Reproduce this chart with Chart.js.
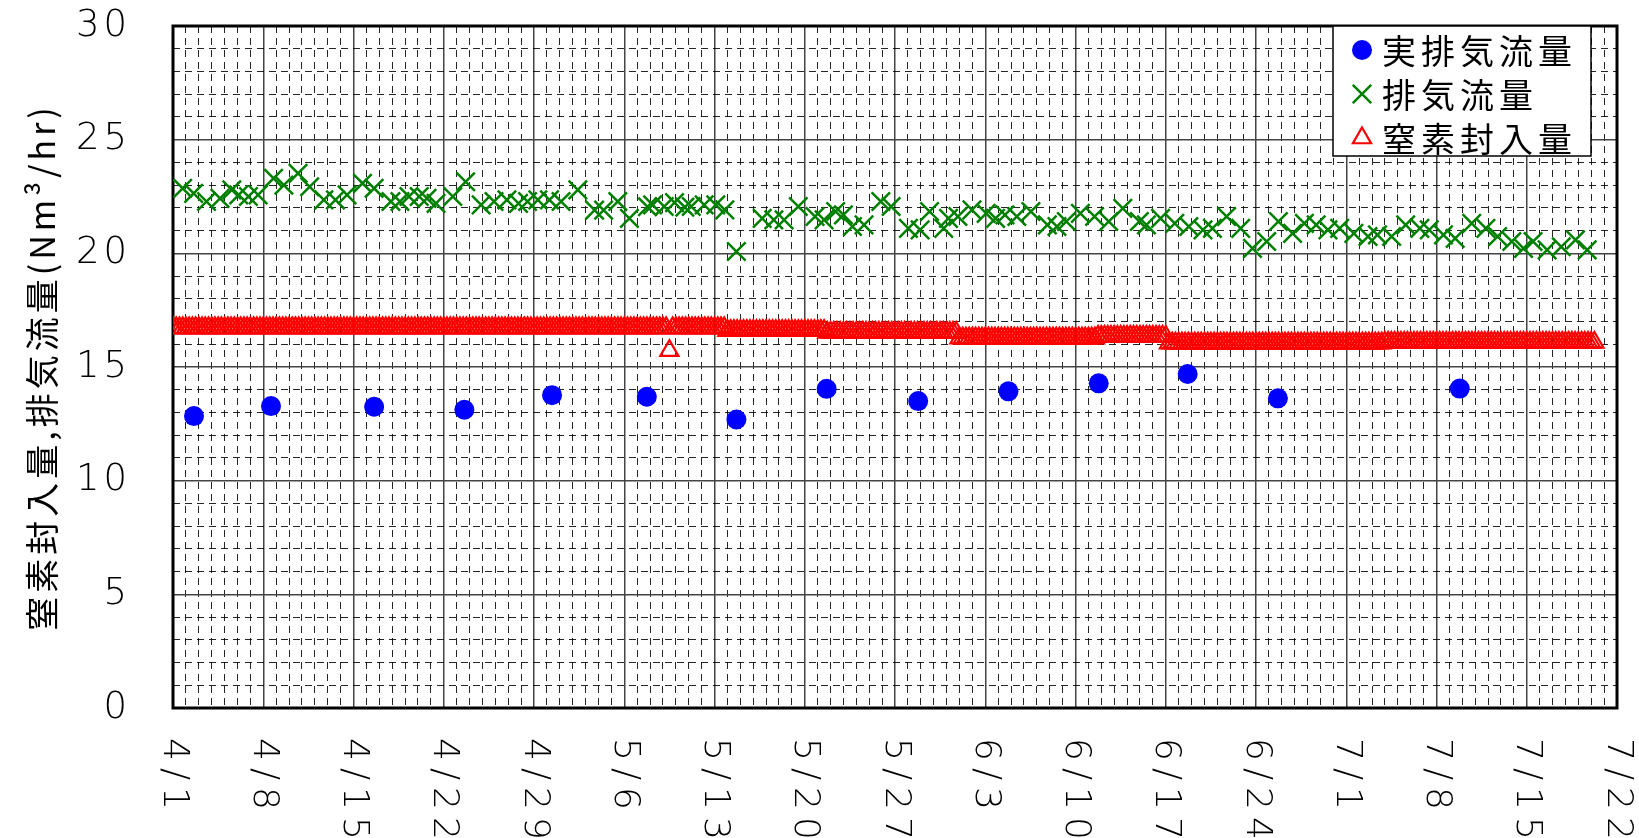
<!DOCTYPE html>
<html lang="ja">
<head>
<meta charset="utf-8">
<script src="https://cdn.jsdelivr.net/npm/chart.js@4.4.0/dist/chart.umd.min.js"></script>
<style>
  html, body { margin: 0; padding: 0; background: #fff; }
</style>
</head>
<body>
<canvas id="meuGrafico" width="1639" height="838"></canvas>
<script>
// eixo x: dias desde 4/1
let rotulosX = ["4/1", "4/8", "4/15", "4/22", "4/29", "5/6", "5/13", "5/20", "5/27",
                "6/3", "6/10", "6/17", "6/24", "7/1", "7/8", "7/15", "7/22"];

// 実排気流量 (semanal)
let diasReal = [1.63, 7.6, 15.6, 22.6, 29.4, 36.75, 43.7, 50.7, 57.8, 64.8, 71.8, 78.7, 85.7, 99.8];
let valoresReal = [12.84, 13.28, 13.25, 13.12, 13.76, 13.69, 12.69, 14.04, 13.5, 13.93, 14.28, 14.69, 13.62, 14.05];

// 排気流量 (diario)
let diasExaustao = [
  0.75, 1.6, 2.6, 3.65, 4.56, 5.1, 5.85, 6.6, 7.8, 8.6, 9.7, 10.6, 11.7, 12.6, 13.5, 14.7, 15.6,
  16.9, 17.6, 18.3, 19.1, 19.7, 20.4, 21.7, 22.7, 23.9, 24.9, 25.9, 26.8, 27.5, 28.3, 29.2, 30.1,
  31.4, 32.7, 33.4, 34.5, 35.4, 36.8,
  37.2, 38.1, 38.9, 39.7, 40.2, 41.2, 42.1, 42.8, 43.7, 45.7, 46.6, 47.4, 48.5, 49.8, 50.5, 51.4,
  52.0, 52.7, 53.6, 54.9, 55.7,
  57.04, 57.95, 58.68, 59.78, 60.15, 60.88, 61.97, 63.07, 63.8, 64.53, 65.45, 66.54, 67.82, 68.56,
  69.29, 70.38, 71.48, 72.58, 73.67, 74.95, 75.5, 76.6, 77.7, 78.79, 79.89, 80.62, 81.72, 82.81,
  83.73, 84.83, 85.74, 86.84, 87.75, 88.67, 89.58, 90.49, 91.59, 92.69, 93.42, 94.52, 95.61, 96.71,
  97.44, 98.54, 99.45, 100.73, 101.83, 102.74, 103.84, 104.75, 105.49, 106.58, 107.68, 108.78, 109.69
];
let valoresExaustao = [
  22.86, 22.64, 22.28, 22.42, 22.79, 22.57, 22.5, 22.57, 23.3, 23.0, 23.52, 22.93, 22.35, 22.35, 22.57, 23.08, 22.86,
  22.28, 22.28, 22.5, 22.5, 22.42, 22.2, 22.5, 23.15, 22.13, 22.28, 22.35, 22.2, 22.28, 22.35, 22.35, 22.28,
  22.79, 21.9, 21.9, 22.28, 21.54, 22.05,
  22.13, 22.06, 22.23, 22.03, 22.06, 22.13, 22.13, 21.91, 20.08, 21.54, 21.47, 21.47, 22.06, 21.62, 21.47, 21.84,
  21.69, 21.18, 21.25, 22.28, 22.06,
  21.1, 21.03, 21.84, 21.1, 21.54, 21.62, 21.91, 21.76, 21.54, 21.69, 21.62, 21.84, 21.25, 21.18,
  21.4, 21.76, 21.62, 21.4, 21.98, 21.4, 21.25, 21.54, 21.32, 21.18, 21.03, 21.1, 21.62, 21.1,
  20.22, 20.52, 21.4, 20.88, 21.32, 21.25, 21.03, 21.1, 20.88, 20.74, 20.81, 20.74, 21.25, 21.1,
  21.03, 20.81, 20.66, 21.32, 21.1, 20.74, 20.52, 20.22, 20.52, 20.15, 20.29, 20.59, 20.15
];

// 窒素封入量 (a cada 6 horas, uma linha por semana)
let passoNitrogenio = 0.25;
let valoresNitrogenio = [
  16.72,16.72,16.72,16.72,16.72,16.72,16.72, 16.72,16.72,16.72,16.72,16.72,16.72,16.72, 16.72,16.72,16.72,16.72,16.72,16.72,16.72, 16.72,16.72,16.72,16.72,16.72,16.72,16.72,
  16.72,16.72,16.72,16.72,16.72,16.72,16.72, 16.72,16.72,16.72,16.72,16.72,16.72,16.72, 16.72,16.72,16.72,16.72,16.72,16.72,16.72, 16.72,16.72,16.72,16.72,16.72,16.72,16.72,
  16.72,16.72,16.72,16.72,16.72,16.72,16.72, 16.72,16.72,16.72,16.72,16.72,16.72,16.72, 16.72,16.72,16.72,16.72,16.72,16.72,16.72, 16.72,16.72,16.72,16.72,16.72,16.72,16.72,
  16.72,16.72,16.72,16.72,16.72,16.72,16.72, 16.72,16.72,16.72,16.72,16.72,16.72,16.72, 16.72,16.72,16.72,16.72,16.72,16.72,16.72, 16.72,16.72,16.72,16.72,16.72,16.72,16.72,
  16.72,16.72,16.72,16.72,16.72,16.72,16.72, 16.72,16.72,16.72,16.72,16.72,16.72,16.72, 16.72,16.72,16.72,16.72,16.72,16.72,16.72, 16.72,16.72,16.72,16.72,16.72,16.72,16.72,
  16.72,16.72,16.72,16.72,16.72,16.72,16.72, 16.72,16.72,16.72,16.72,16.72,16.72,16.72, 15.72,16.72,16.72,16.72,16.72,16.72,16.72, 16.72,16.72,16.72,16.72,16.72,16.72,16.72,
  16.72,16.72,16.72,16.72,16.6,16.6,16.6, 16.6,16.6,16.6,16.6,16.6,16.6,16.6, 16.6,16.6,16.6,16.6,16.6,16.6,16.6, 16.6,16.6,16.6,16.6,16.6,16.6,16.6,
  16.6,16.6,16.6,16.6,16.6,16.6,16.6, 16.52,16.52,16.52,16.52,16.52,16.52,16.52, 16.52,16.52,16.52,16.52,16.52,16.52,16.52, 16.52,16.52,16.52,16.52,16.52,16.52,16.52,
  16.52,16.52,16.52,16.52,16.52,16.52,16.52, 16.52,16.52,16.52,16.52,16.52,16.52,16.52, 16.52,16.52,16.52,16.52,16.52,16.52,16.27, 16.27,16.27,16.27,16.27,16.27,16.27,16.27,
  16.27,16.27,16.27,16.27,16.27,16.27,16.27, 16.27,16.27,16.27,16.27,16.27,16.27,16.27, 16.27,16.27,16.27,16.27,16.27,16.27,16.27, 16.27,16.27,16.27,16.27,16.27,16.27,16.27,
  16.27,16.27,16.27,16.27,16.27,16.27,16.27, 16.34,16.34,16.34,16.34,16.34,16.34,16.34, 16.34,16.34,16.34,16.34,16.34,16.34,16.34, 16.34,16.34,16.34,16.34,16.34,16.34,16.34,
  16.34,16.05,16.05,16.05,16.05,16.05,16.05, 16.05,16.05,16.05,16.05,16.05,16.05,16.05, 16.05,16.05,16.05,16.05,16.05,16.05,16.05, 16.05,16.05,16.05,16.05,16.05,16.05,16.05,
  16.05,16.05,16.05,16.05,16.05,16.05,16.05, 16.05,16.05,16.05,16.05,16.05,16.05,16.05, 16.05,16.05,16.05,16.05,16.05,16.05,16.05, 16.05,16.05,16.05,16.05,16.05,16.05,16.05,
  16.05,16.05,16.05,16.05,16.05,16.05,16.05, 16.05,16.05,16.05,16.05,16.05,16.08,16.08, 16.08,16.08,16.08,16.08,16.08,16.08,16.08, 16.08,16.08,16.08,16.08,16.08,16.08,16.08,
  16.08,16.08,16.08,16.08,16.08,16.08,16.08, 16.08,16.08,16.08,16.08,16.08,16.08,16.08, 16.08,16.08,16.08,16.08,16.08,16.08,16.08, 16.08,16.08,16.08,16.08,16.08,16.08,16.08,
  16.08,16.08,16.08,16.08,16.08,16.08,16.08, 16.08,16.08,16.08,16.08,16.08,16.08,16.08, 16.08,16.08,16.08,16.08,16.08,16.08,16.08, 16.08
];

var fonteJp = '"Noto Sans CJK JP", "Noto Sans", sans-serif';
var fonteNum = '"DejaVu Sans", sans-serif';

function pares(dias, valores) {
    return valores.map((v, i) => ({ x: dias[i], y: v }));
}

// espacamento entre letras para os textos dos eixos (fonte original e larga)
const espacoLetras = {
    id: 'espacoLetras',
    beforeDraw(chart) { chart.ctx.letterSpacing = '4px'; },
    beforeDatasetsDraw(chart) { chart.ctx.letterSpacing = '0px'; }
};

// moldura preta em volta da area do grafico
const moldura = {
    id: 'moldura',
    beforeDatasetsDraw(chart) {
        const a = chart.chartArea;
        const ctx = chart.ctx;
        ctx.save();
        ctx.strokeStyle = '#000';
        ctx.lineWidth = 3;
        ctx.strokeRect(a.left, a.top, a.right - a.left, a.bottom - a.top);
        ctx.restore();
    }
};

// rotulos do eixo x girados 90 graus (leitura de cima para baixo)
const rotulosEixoX = {
    id: 'rotulosEixoX',
    afterDraw(chart) {
        const ctx = chart.ctx;
        const escala = chart.scales.x;
        ctx.save();
        ctx.font = '200 36px ' + fonteNum;
        ctx.letterSpacing = '7px';
        ctx.fillStyle = '#000';
        ctx.textAlign = 'left';
        ctx.textBaseline = 'middle';
        escala.ticks.forEach((t, i) => {
            ctx.save();
            ctx.translate(escala.getPixelForValue(t.value), chart.chartArea.bottom + 30);
            ctx.rotate(Math.PI / 2);
            ctx.fillText(rotulosX[i], 0, 0);
            ctx.restore();
        });
        ctx.restore();
    }
};

// legenda com caixa, dentro da area do grafico
const legendaCaixa = {
    id: 'legendaCaixa',
    afterDraw(chart) {
        const ctx = chart.ctx;
        const a = chart.chartArea;
        const largura = 258, altura = 130;
        const esq = a.right - 26 - largura, topo = a.top;
        ctx.save();
        ctx.fillStyle = '#fff';
        ctx.fillRect(esq, topo, largura, altura);
        ctx.strokeStyle = '#000';
        ctx.lineWidth = 1.5;
        ctx.strokeRect(esq, topo, largura, altura);
        ctx.font = '34px ' + fonteJp;
        ctx.letterSpacing = '5px';
        ctx.textBaseline = 'middle';
        ctx.textAlign = 'left';
        chart.data.datasets.forEach((ds, i) => {
            const y = topo + 24 + i * 44;
            ctx.fillStyle = ds.backgroundColor;
            ctx.strokeStyle = ds.borderColor;
            ctx.lineWidth = ds.borderWidth;
            Chart.helpers.drawPoint(ctx, {
                pointStyle: ds.pointStyle, radius: ds.pointRadius, rotation: 0, borderWidth: ds.borderWidth
            }, esq + 29, y);
            ctx.fillStyle = '#000';
            ctx.fillText(ds.label, esq + 49, y + 1);
        });
        ctx.restore();
    }
};

function desenharGrafico() {
    var canvas = document.getElementById("meuGrafico");
    var ctx = canvas.getContext("2d");

    new Chart(ctx, {
        type: 'scatter',
        data: {
            datasets: [{
                label: '実排気流量',
                data: pares(diasReal, valoresReal),
                pointStyle: 'circle',
                pointRadius: 10,
                backgroundColor: '#0000ff',
                borderColor: '#0000ff',
                borderWidth: 0
            }, {
                label: '排気流量',
                data: pares(diasExaustao, valoresExaustao),
                pointStyle: 'crossRot',
                pointRadius: 13,
                backgroundColor: 'rgba(0,0,0,0)',
                borderColor: '#008000',
                borderWidth: 2.5
            }, {
                label: '窒素封入量',
                data: valoresNitrogenio.map((v, i) => ({ x: i * passoNitrogenio, y: v })),
                pointStyle: 'triangle',
                pointRadius: 10.5,
                backgroundColor: 'rgba(0,0,0,0)',
                borderColor: '#ff0000',
                borderWidth: 2.2
            }]
        },
        options: {
            responsive: false,
            animation: false,
            events: [],
            devicePixelRatio: 1,
            layout: { padding: { left: 0, right: 22, top: 26, bottom: 0 } },
            plugins: {
                legend: { display: false },
                tooltip: { enabled: false }
            },
            scales: {
                x: {
                    type: 'linear', position: 'bottom', min: 0, max: 112,
                    ticks: { stepSize: 7, display: false },
                    grid: { color: '#444', lineWidth: 1.5, drawTicks: false },
                    border: { display: false },
                    afterFit: (s) => { s.height = 130; }
                },
                xMenor: {
                    type: 'linear', position: 'bottom', min: 0, max: 112,
                    ticks: { stepSize: 1, display: false },
                    grid: {
                        color: (c) => c.tick && c.tick.value % 7 === 0 ? 'rgba(0,0,0,0)' : 'rgba(0,0,0,0.85)',
                        lineWidth: 1, drawTicks: false
                    },
                    border: { display: false, dash: [7, 5] },
                    afterFit: (s) => { s.height = 0; }
                },
                y: {
                    min: 0, max: 30,
                    ticks: {
                        stepSize: 5, padding: 0, color: '#000',
                        font: { family: fonteNum, size: 37, weight: '200' }
                    },
                    grid: {
                        color: '#444', lineWidth: 1.5,
                        drawTicks: true, tickLength: 42, tickColor: 'rgba(0,0,0,0)'
                    },
                    border: { display: false },
                    title: {
                        display: true,
                        text: '窒素封入量,排気流量(Nm³/hr)',
                        color: '#000',
                        font: { family: fonteJp, size: 34 },
                        padding: { top: 22, bottom: 0 }
                    },
                    afterFit: (s) => { s.width = 173; }
                },
                yMenor: {
                    position: 'left', min: 0, max: 30,
                    ticks: { stepSize: 1, display: false },
                    grid: {
                        color: (c) => c.tick && c.tick.value % 5 === 0 ? 'rgba(0,0,0,0)' : 'rgba(0,0,0,0.85)',
                        lineWidth: 1, drawTicks: false
                    },
                    border: { display: false, dash: [7, 5] },
                    afterFit: (s) => { s.width = 0; }
                }
            }
        },
        plugins: [espacoLetras, moldura, rotulosEixoX, legendaCaixa]
    });
}

desenharGrafico();
</script>
</body>
</html>
